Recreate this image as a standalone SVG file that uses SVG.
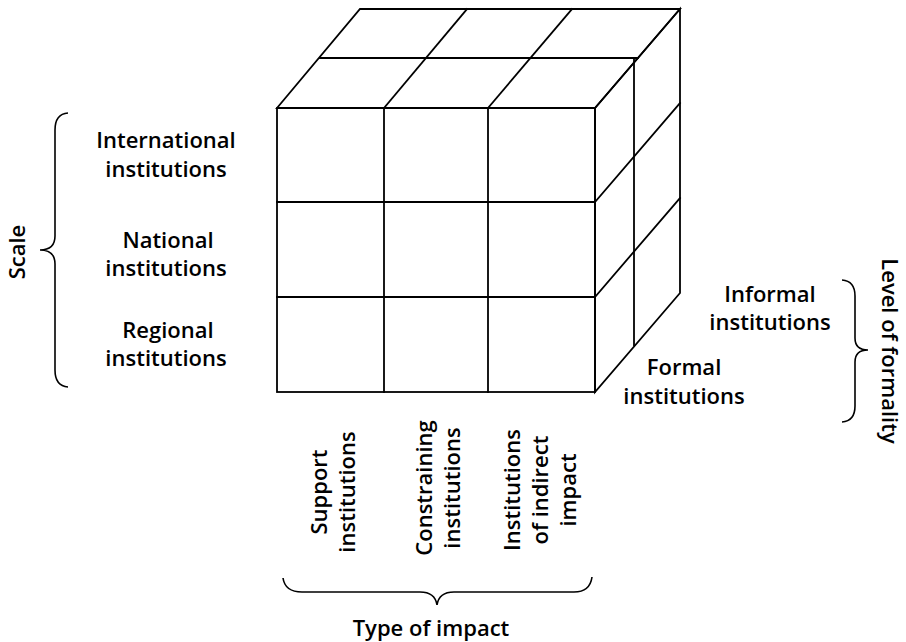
<svg xmlns="http://www.w3.org/2000/svg" width="906" height="642" viewBox="0 0 906 642">
  <style>
    .edge { fill: none; stroke: #000; stroke-width: 1.8; stroke-linecap: square; }
    .brace { fill: none; stroke: #000; stroke-width: 1.6; }
    .lbl { font-family: "Open Sans", "Noto Sans", sans-serif; font-size: 22px; font-weight: 600; fill: #000; text-anchor: middle; }
    .axis { font-family: "Open Sans", "Noto Sans", sans-serif; font-size: 22px; font-weight: 600; fill: #000; text-anchor: middle; }
  </style>
  <rect width="906" height="642" fill="#fff"/>

  <!-- cube: front face 3x3 grid -->
  <g id="front-face">
    <rect class="edge" x="277" y="108" width="318" height="284"/>
    <line class="edge" x1="384" y1="108" x2="384" y2="392"/>
    <line class="edge" x1="488" y1="108" x2="488" y2="392"/>
    <line class="edge" x1="277" y1="202" x2="595" y2="202"/>
    <line class="edge" x1="277" y1="297" x2="595" y2="297"/>
  </g>

  <!-- cube: top face, 3 columns by 2 depth levels -->
  <g id="top-face">
    <polygon class="edge" points="277,108 360,9 680,9 595,108"/>
    <line class="edge" x1="320" y1="58" x2="638" y2="58"/>
    <line class="edge" x1="384" y1="108" x2="467" y2="9"/>
    <line class="edge" x1="488" y1="108" x2="572" y2="9"/>
  </g>

  <!-- cube: right face, 3 rows by 2 depth levels -->
  <g id="right-face">
    <polygon class="edge" points="595,108 680,9 680,293 595,392"/>
    <line class="edge" x1="634" y1="58" x2="634" y2="345"/>
    <line class="edge" x1="595" y1="202" x2="680" y2="103"/>
    <line class="edge" x1="595" y1="297" x2="680" y2="198"/>
  </g>

  <!-- scale axis -->
  <g id="scale">
    <path class="brace" d="M68,113 Q55,114 55,130 L55,236 Q55,250 40,250 Q55,250 55,264 L55,370 Q55,386 68,387"/>
    <text class="axis" font-size="24" transform="translate(25,252) rotate(-90)">Scale</text>
    <text class="lbl" x="166" y="148">International</text>
    <text class="lbl" x="166" y="177">institutions</text>
    <text class="lbl" x="168" y="248">National</text>
    <text class="lbl" x="166" y="276">institutions</text>
    <text class="lbl" x="168" y="338">Regional</text>
    <text class="lbl" x="166" y="366">institutions</text>
  </g>

  <!-- formality axis -->
  <g id="formality">
    <path class="brace" d="M842,280 Q855,281 855,296 L855,338 Q855,350 868,350 Q855,350 855,362 L855,406 Q855,421 842,422"/>
    <text class="axis" transform="translate(882,351) rotate(90)">Level of formality</text>
    <text class="lbl" x="770" y="302">Informal</text>
    <text class="lbl" x="770" y="330">institutions</text>
    <text class="lbl" x="684" y="375">Formal</text>
    <text class="lbl" x="684" y="404">institutions</text>
  </g>

  <!-- impact axis -->
  <g id="impact">
    <text class="lbl" transform="translate(327,492) rotate(-90)">Support</text>
    <text class="lbl" transform="translate(355,492) rotate(-90)">institutions</text>
    <text class="lbl" transform="translate(432,488) rotate(-90)">Constraining</text>
    <text class="lbl" transform="translate(460,488) rotate(-90)">institutions</text>
    <text class="lbl" transform="translate(520,490) rotate(-90)">Institutions</text>
    <text class="lbl" transform="translate(548,490) rotate(-90)">of indirect</text>
    <text class="lbl" transform="translate(576,490) rotate(-90)">impact</text>
    <path class="brace" d="M283,578 Q285,592 302,592 L420,592 Q435,592 437,605 Q439,592 454,592 L574,592 Q590,592 592,577"/>
    <text class="lbl" x="431" y="636">Type of impact</text>
  </g>
</svg>
